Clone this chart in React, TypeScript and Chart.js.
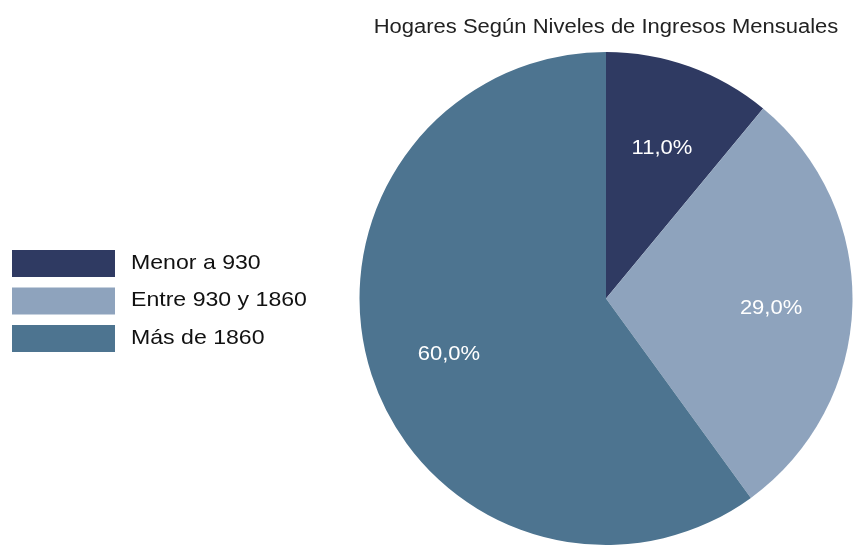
import React, { useEffect, useRef } from "react";
import { Chart, registerables } from "chart.js";

Chart.register(...registerables);

const titleText = "Hogares Según Niveles de Ingresos Mensuales";
const categories = ["Menor a 930", "Entre 930 y 1860", "Más de 1860"];
const values = [11.0, 29.0, 60.0];
const colors = ["#2f3a62", "#8ea3bd", "#4d7490"];

const FONT = "'Liberation Sans', Arial, sans-serif";
const SX = 1.1;

function drawText(ctx: CanvasRenderingContext2D, text: string, x: number, y: number, align: "left" | "center", font: string, color: string) {
  ctx.save();
  ctx.font = font;
  ctx.fillStyle = color;
  ctx.textBaseline = "middle";
  ctx.textAlign = "left";
  const w = ctx.measureText(text).width * SX;
  const x0 = align === "center" ? x - w / 2 : x;
  ctx.translate(x0, y);
  ctx.scale(SX, 1);
  ctx.fillText(text, 0, 0);
  ctx.restore();
}

const overlayPlugin = {
  id: "overlay",
  afterDraw(chart: any) {
    const ctx: CanvasRenderingContext2D = chart.ctx;
    const meta = chart.getDatasetMeta(0);
    // title
    const c0 = meta.data[0];
    drawText(ctx, titleText, c0.x, 27, "center", `20px ${FONT}`, "#222222");
    // slice labels
    const ds = chart.data.datasets[0];
    meta.data.forEach((arc: any, i: number) => {
      const mid = (arc.startAngle + arc.endAngle) / 2;
      const r = arc.outerRadius * 0.67;
      const x = arc.x + Math.cos(mid) * r;
      const y = arc.y + Math.sin(mid) * r + 5;
      const label = Number(ds.data[i]).toFixed(1).replace(".", ",") + "%";
      drawText(ctx, label, x, y, "center", `20px ${FONT}`, "#ffffff");
    });
    // legend
    const labels = chart.data.labels as string[];
    labels.forEach((lab: string, i: number) => {
      const top = 250 + i * 37.5;
      ctx.save();
      ctx.fillStyle = (ds.backgroundColor as string[])[i];
      ctx.fillRect(12, top, 103, 27);
      ctx.restore();
      drawText(ctx, lab, 131, top + 13, "left", `21px ${FONT}`, "#111111");
    });
  },
};

export default function App() {
  const ref = useRef<HTMLCanvasElement>(null);
  useEffect(() => {
    document.body.style.margin = "0";
    const canvas = ref.current!;
    const chart = new Chart(canvas, {
      type: "pie",
      data: {
        labels: categories,
        datasets: [
          {
            data: values,
            backgroundColor: colors,
            borderWidth: 0,
            hoverOffset: 0,
          },
        ],
      },
      options: {
        responsive: false,
        animation: false,
        devicePixelRatio: 1,
        layout: { padding: { left: 359, right: 3, top: 52, bottom: 1 } },
        plugins: {
          legend: { display: false },
          title: { display: false },
          tooltip: { enabled: false },
        },
      },
      plugins: [overlayPlugin],
    });
    return () => chart.destroy();
  }, []);
  return <canvas ref={ref} width={856} height={546} style={{ display: "block", width: 856, height: 546 }} />;
}
